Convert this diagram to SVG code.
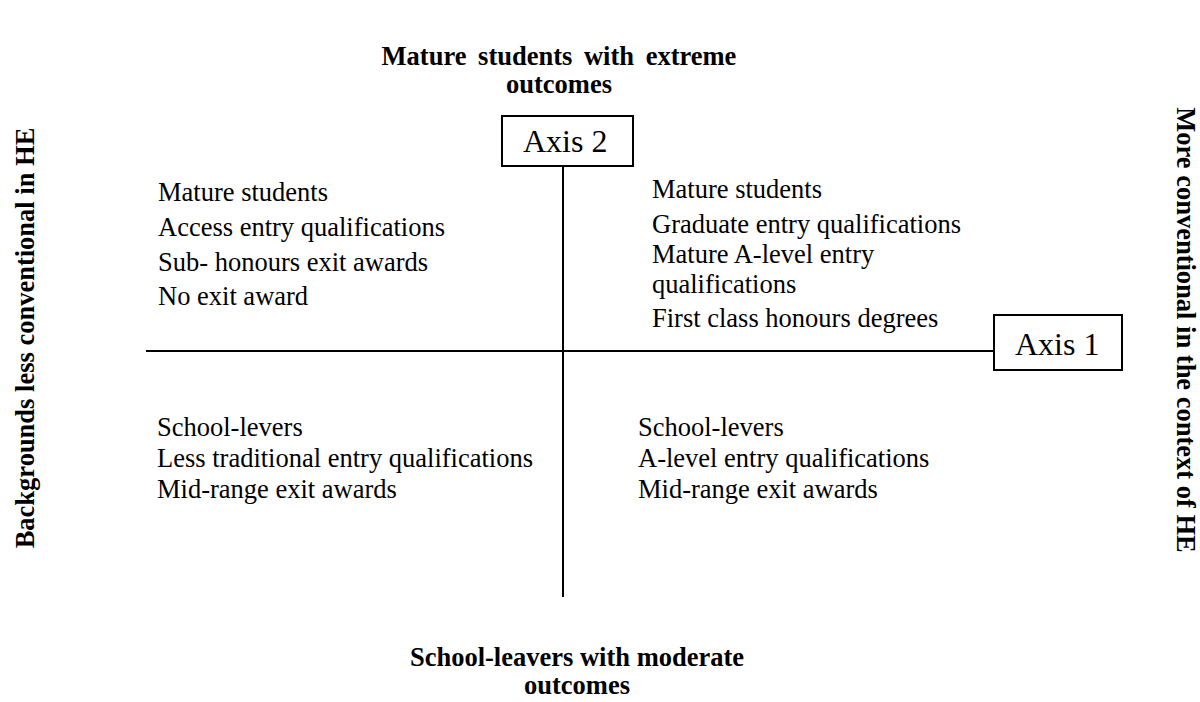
<svg xmlns="http://www.w3.org/2000/svg" width="1200" height="702" viewBox="0 0 1200 702">
  <style>
    .t { font-family: "Liberation Serif", "Times New Roman", serif; font-size: 26.5px; fill: #000; }
    .b { font-family: "Liberation Serif", "Times New Roman", serif; font-size: 26.5px; font-weight: bold; fill: #000; }
    .ax { font-family: "Liberation Serif", "Times New Roman", serif; font-size: 32px; fill: #000; }
    .box { fill: #fff; stroke: #000; stroke-width: 2; }
    .axis { stroke: #000; stroke-width: 2; fill: none; }
  </style>
  <rect width="1200" height="702" fill="#fff"/>

  <!-- axis lines -->
  <g id="connectors">
    <line class="axis" x1="563" y1="166" x2="563" y2="597"/>
    <line class="axis" x1="146" y1="351" x2="994" y2="351"/>
  </g>

  <!-- axis label boxes -->
  <g id="axis2">
    <rect class="box" x="502" y="116" width="131" height="50"/>
    <text class="ax" x="523" y="152">Axis 2</text>
  </g>
  <g id="axis1">
    <rect class="box" x="994" y="315" width="128" height="55"/>
    <text class="ax" x="1015" y="355">Axis 1</text>
  </g>

  <!-- pole titles -->
  <g id="title-top">
    <text class="b" x="559" y="65" text-anchor="middle" style="word-spacing:5px">Mature students with extreme</text>
    <text class="b" x="559" y="93" text-anchor="middle">outcomes</text>
  </g>
  <g id="title-bottom">
    <text class="b" x="577" y="666" text-anchor="middle">School-leavers with moderate</text>
    <text class="b" x="577" y="694" text-anchor="middle">outcomes</text>
  </g>
  <g id="title-left">
    <text class="b" transform="translate(34 338) rotate(-90)" text-anchor="middle">Backgrounds less conventional in HE</text>
  </g>
  <g id="title-right">
    <text class="b" transform="translate(1177 330) rotate(90)" text-anchor="middle">More conventional in the context of HE</text>
  </g>

  <!-- quadrant contents -->
  <g id="quadrant-top-left">
    <text class="t" x="158" y="201">Mature students</text>
    <text class="t" x="158" y="236">Access entry qualifications</text>
    <text class="t" x="158" y="271">Sub- honours exit awards</text>
    <text class="t" x="158" y="305">No exit award</text>
  </g>
  <g id="quadrant-top-right">
    <text class="t" x="652" y="198">Mature students</text>
    <text class="t" x="652" y="233">Graduate entry qualifications</text>
    <text class="t" x="652" y="263">Mature A-level entry</text>
    <text class="t" x="652" y="293">qualifications</text>
    <text class="t" x="652" y="327">First class honours degrees</text>
  </g>
  <g id="quadrant-bottom-left">
    <text class="t" x="157" y="436">School-levers</text>
    <text class="t" x="157" y="467">Less traditional entry qualifications</text>
    <text class="t" x="157" y="498">Mid-range exit awards</text>
  </g>
  <g id="quadrant-bottom-right">
    <text class="t" x="638" y="436">School-levers</text>
    <text class="t" x="638" y="467">A-level entry qualifications</text>
    <text class="t" x="638" y="498">Mid-range exit awards</text>
  </g>
</svg>
